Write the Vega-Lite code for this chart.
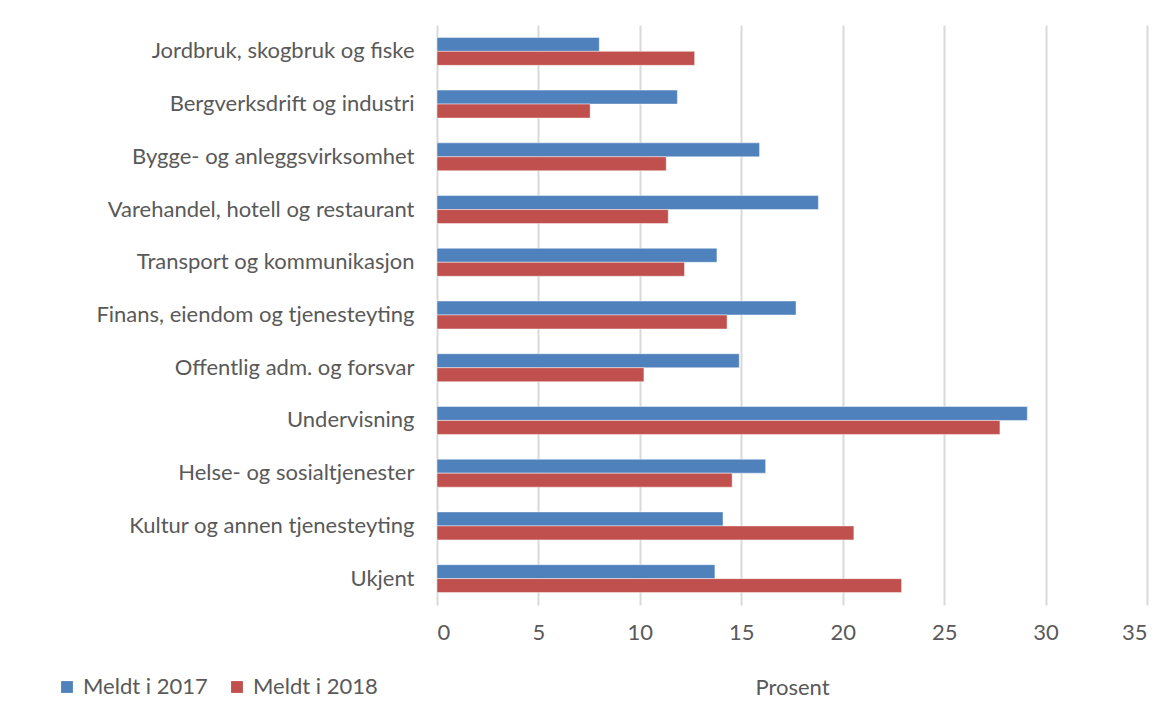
{
  "$schema": "https://vega.github.io/schema/vega-lite/v6.json",
  "autosize": {"type": "none"},
  "width": 710,
  "height": 580,
  "padding": {"left": 437, "top": 25, "right": 20, "bottom": 113},
  "background": "white",
  "data": {
    "values": [
      {"naering": "Jordbruk, skogbruk og fiske", "serie": "Meldt i 2017", "prosent": 8.0},
      {"naering": "Jordbruk, skogbruk og fiske", "serie": "Meldt i 2018", "prosent": 12.7},
      {"naering": "Bergverksdrift og industri", "serie": "Meldt i 2017", "prosent": 11.85},
      {"naering": "Bergverksdrift og industri", "serie": "Meldt i 2018", "prosent": 7.55},
      {"naering": "Bygge- og anleggsvirksomhet", "serie": "Meldt i 2017", "prosent": 15.9},
      {"naering": "Bygge- og anleggsvirksomhet", "serie": "Meldt i 2018", "prosent": 11.3},
      {"naering": "Varehandel, hotell og restaurant", "serie": "Meldt i 2017", "prosent": 18.8},
      {"naering": "Varehandel, hotell og restaurant", "serie": "Meldt i 2018", "prosent": 11.4},
      {"naering": "Transport og kommunikasjon", "serie": "Meldt i 2017", "prosent": 13.8},
      {"naering": "Transport og kommunikasjon", "serie": "Meldt i 2018", "prosent": 12.2},
      {"naering": "Finans, eiendom og tjenesteyting", "serie": "Meldt i 2017", "prosent": 17.7},
      {"naering": "Finans, eiendom og tjenesteyting", "serie": "Meldt i 2018", "prosent": 14.3},
      {"naering": "Offentlig adm. og forsvar", "serie": "Meldt i 2017", "prosent": 14.9},
      {"naering": "Offentlig adm. og forsvar", "serie": "Meldt i 2018", "prosent": 10.2},
      {"naering": "Undervisning", "serie": "Meldt i 2017", "prosent": 29.1},
      {"naering": "Undervisning", "serie": "Meldt i 2018", "prosent": 27.75},
      {"naering": "Helse- og sosialtjenester", "serie": "Meldt i 2017", "prosent": 16.2},
      {"naering": "Helse- og sosialtjenester", "serie": "Meldt i 2018", "prosent": 14.55},
      {"naering": "Kultur og annen tjenesteyting", "serie": "Meldt i 2017", "prosent": 14.1},
      {"naering": "Kultur og annen tjenesteyting", "serie": "Meldt i 2018", "prosent": 20.55},
      {"naering": "Ukjent", "serie": "Meldt i 2017", "prosent": 13.7},
      {"naering": "Ukjent", "serie": "Meldt i 2018", "prosent": 22.9}
    ]
  },
  "mark": {"type": "bar", "stroke": "white", "strokeOpacity": 0.45, "strokeWidth": 1},
  "encoding": {
    "y": {
      "field": "naering",
      "type": "nominal",
      "sort": null,
      "scale": {"paddingInner": 0.47, "paddingOuter": 0.235},
      "axis": {
        "title": null,
        "labelFont": "Lato",
        "labelFontSize": 22,
        "labelColor": "#595959",
        "labelPadding": 23,
        "ticks": false,
        "domain": false,
        "labelLimit": 420
      }
    },
    "yOffset": {"field": "serie", "type": "nominal", "sort": ["Meldt i 2017", "Meldt i 2018"]},
    "x": {
      "field": "prosent",
      "type": "quantitative",
      "scale": {"domain": [0, 35], "nice": false},
      "axis": {
        "title": "Prosent",
        "titleFont": "Lato",
        "titleFontSize": 22,
        "titleFontWeight": "normal",
        "titleColor": "#595959",
        "titlePadding": 34,
        "values": [0, 5, 10, 15, 20, 25, 30, 35],
        "labelFont": "Lato",
        "labelFontSize": 22,
        "labelColor": "#595959",
        "labelPadding": 17,
        "ticks": false,
        "domain": false,
        "grid": true,
        "gridColor": "#d9d9d9",
        "gridWidth": 2
      }
    },
    "color": {
      "field": "serie",
      "type": "nominal",
      "scale": {"domain": ["Meldt i 2017", "Meldt i 2018"], "range": ["#4F81BD", "#C0504D"]},
      "legend": {
        "title": null,
        "orient": "none",
        "direction": "horizontal",
        "legendX": -381,
        "legendY": 651,
        "symbolType": "square",
        "symbolSize": 140,
        "symbolStrokeWidth": 0,
        "labelFont": "Lato",
        "labelFontSize": 22,
        "labelColor": "#595959",
        "labelOffset": 5,
        "columnPadding": 18
      }
    }
  },
  "config": {"view": {"stroke": null}}
}
